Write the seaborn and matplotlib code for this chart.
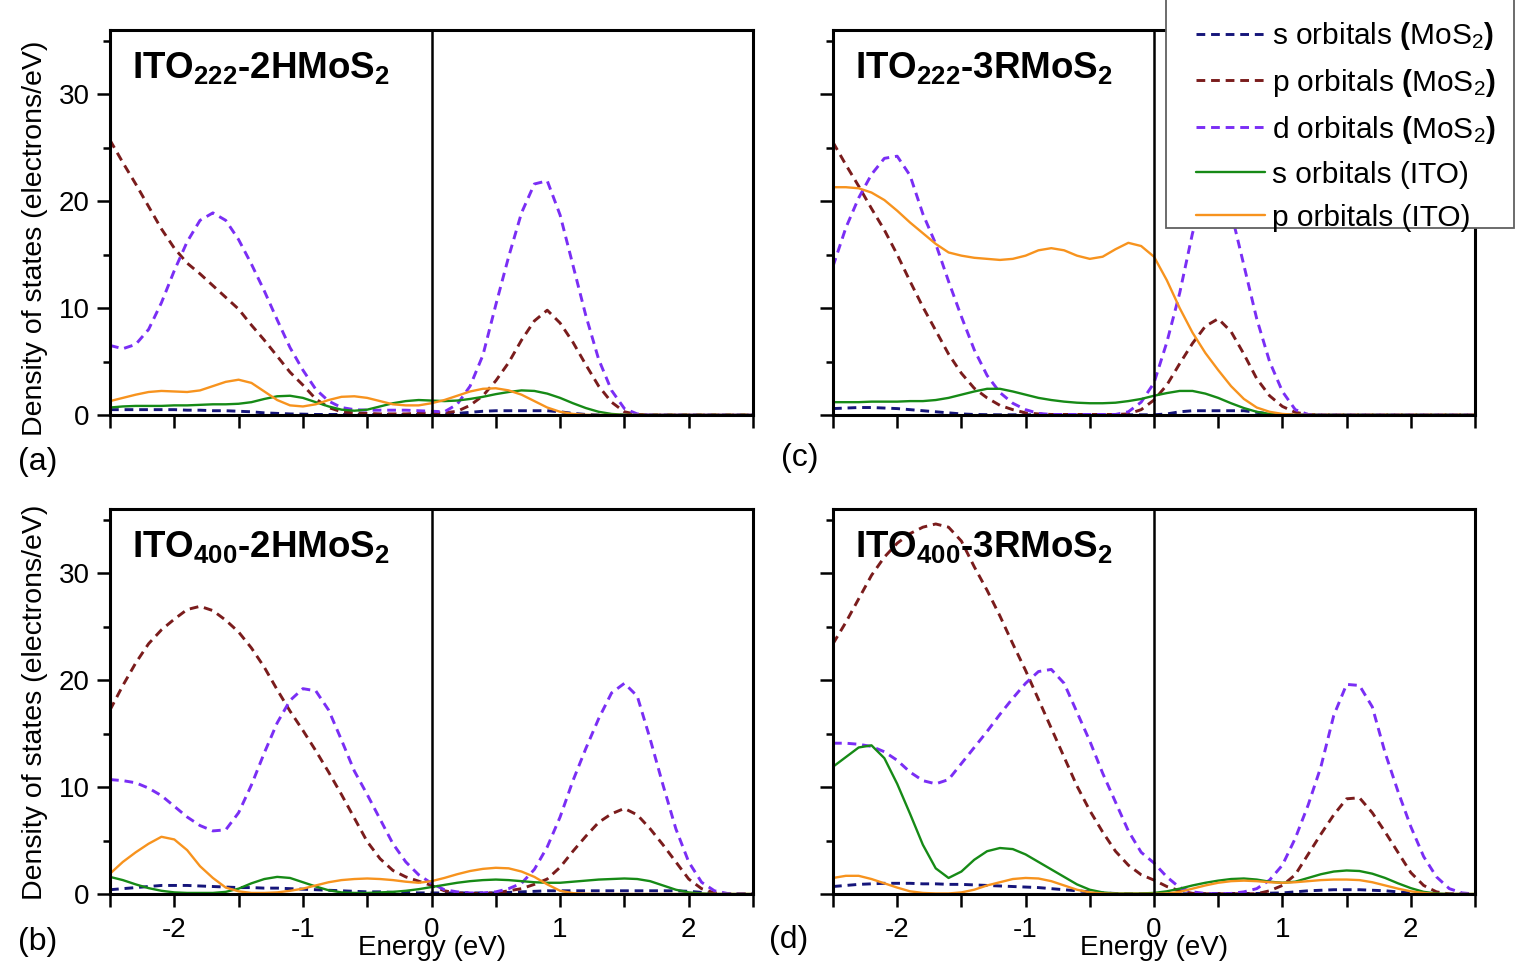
import numpy as np
import pandas as pd
import matplotlib
matplotlib.use("Agg")
import matplotlib.pyplot as plt
import seaborn as sns
from matplotlib.patches import Rectangle
from matplotlib.lines import Line2D

# ---------------- data ----------------
energy = [-2.5, -2.4, -2.3, -2.2, -2.1, -2.0, -1.9, -1.8, -1.7, -1.6,
          -1.5, -1.4, -1.3, -1.2, -1.1, -1.0, -0.9, -0.8, -0.7, -0.6,
          -0.5, -0.4, -0.3, -0.2, -0.1, 0.0, 0.1, 0.2, 0.3, 0.4,
          0.5, 0.6, 0.7, 0.8, 0.9, 1.0, 1.1, 1.2, 1.3, 1.4,
          1.5, 1.6, 1.7, 1.8, 1.9, 2.0, 2.1, 2.2, 2.3, 2.4, 2.5]

series_labels = [r"s orbitals $\mathbf{(}$MoS$_2$$\mathbf{)}$",
                 r"p orbitals $\mathbf{(}$MoS$_2$$\mathbf{)}$",
                 r"d orbitals $\mathbf{(}$MoS$_2$$\mathbf{)}$",
                 "s orbitals (ITO)",
                 "p orbitals (ITO)"]

panel_titles = [r"ITO$_{\mathbf{222}}$-2HMoS$_{\mathbf{2}}$",
                r"ITO$_{\mathbf{400}}$-2HMoS$_{\mathbf{2}}$",
                r"ITO$_{\mathbf{222}}$-3RMoS$_{\mathbf{2}}$",
                r"ITO$_{\mathbf{400}}$-3RMoS$_{\mathbf{2}}$"]
panel_tags = ["(a)", "(b)", "(c)", "(d)"]

# panel (a) ITO222-2HMoS2
a_s_mos2 = [0.5, 0.5, 0.5, 0.5, 0.5, 0.5, 0.45, 0.45, 0.4, 0.4, 0.35, 0.3, 0.2, 0.15, 0.1, 0.08,
            0.05, 0.05, 0.05, 0.05, 0.05, 0.05, 0.05, 0.05, 0.05, 0.05,
            0.1, 0.15, 0.25, 0.35, 0.4, 0.4, 0.4, 0.4, 0.4, 0.3, 0.15, 0.05,
            0, 0, 0, 0, 0, 0, 0, 0, 0, 0, 0, 0, 0]
a_p_mos2 = [25.7, 23.6, 21.6, 19.5, 17.4, 15.6, 14.2, 13.2, 12.1, 11.0, 9.9, 8.4, 7.0, 5.5, 4.0, 2.8,
            1.5, 0.7, 0.3, 0.2, 0.15, 0.1, 0.1, 0.1, 0.15, 0.2,
            0.2, 0.35, 0.9, 1.8, 3.2, 4.9, 7.0, 8.8, 9.8, 8.6,
            6.8, 4.7, 2.7, 1.2, 0.3, 0.05, 0, 0, 0, 0, 0, 0, 0, 0, 0]
a_d_mos2 = [6.5, 6.2, 6.6, 8.0, 10.5, 13.5, 16.2, 18.2, 18.9, 18.2, 16.4, 14.1, 11.6, 8.9, 6.3, 4.2,
            2.4, 1.3, 0.7, 0.5, 0.45, 0.45, 0.45, 0.45, 0.4, 0.35,
            0.3, 1.0, 2.7, 5.6, 10.3, 14.8, 18.9, 21.6, 21.9, 18.7,
            14.0, 9.3, 5.2, 2.3, 0.6, 0.1, 0, 0, 0, 0, 0, 0, 0, 0, 0]
a_s_ito = [0.7, 0.8, 0.85, 0.85, 0.85, 0.9, 0.9, 0.95, 1.0, 1.0, 1.05, 1.2, 1.5, 1.75, 1.8, 1.6,
           1.2, 0.8, 0.5, 0.4, 0.5, 0.8, 1.1, 1.3, 1.4, 1.35,
           1.3, 1.35, 1.5, 1.7, 1.95, 2.15, 2.3, 2.25, 2.0, 1.6,
           1.1, 0.65, 0.3, 0.1, 0.02, 0, 0, 0, 0, 0, 0, 0, 0, 0, 0]
a_p_ito = [1.3, 1.6, 1.9, 2.15, 2.25, 2.2, 2.15, 2.3, 2.7, 3.1, 3.3, 3.0, 2.2, 1.4, 0.9, 0.8,
           1.0, 1.4, 1.7, 1.75, 1.6, 1.3, 1.0, 0.9, 0.9, 1.1,
           1.4, 1.8, 2.2, 2.45, 2.5, 2.3, 1.9, 1.3, 0.7, 0.3,
           0.1, 0.02, 0, 0, 0, 0, 0, 0, 0, 0, 0, 0, 0, 0, 0]

# panel (b) ITO400-2HMoS2
b_s_mos2 = [0.4, 0.5, 0.6, 0.7, 0.8, 0.8, 0.8, 0.75, 0.7, 0.65, 0.6, 0.6, 0.55, 0.55, 0.5, 0.45,
            0.4, 0.35, 0.3, 0.25, 0.2, 0.2, 0.15, 0.15, 0.1, 0.1,
            0.1, 0.1, 0.1, 0.1, 0.1, 0.15, 0.2, 0.25, 0.3, 0.3,
            0.3, 0.3, 0.3, 0.3, 0.3, 0.3, 0.3, 0.3, 0.3, 0.25, 0.15, 0.05, 0, 0, 0]
b_p_mos2 = [17.2, 19.5, 21.6, 23.4, 24.7, 25.7, 26.6, 26.9, 26.5, 25.6, 24.5, 23.0, 21.2, 19.1, 17.1, 15.3,
            13.4, 11.4, 9.3, 7.1, 4.9, 3.3, 2.2, 1.6, 1.2, 0.8,
            0.3, 0.1, 0.05, 0.05, 0.1, 0.3, 0.5, 0.9, 1.4, 2.5,
            4.0, 5.4, 6.7, 7.5, 8.0, 7.4, 6.1, 4.6, 3.0, 1.4, 0.5, 0.1, 0, 0, 0]
b_d_mos2 = [10.7, 10.6, 10.4, 9.9, 9.2, 8.2, 7.2, 6.4, 5.9, 6.0, 7.6, 10.2, 13.2, 16.0, 18.1, 19.2,
            19.0, 17.2, 14.4, 11.5, 9.3, 7.0, 4.7, 3.0, 1.8, 1.0,
            0.4, 0.2, 0.1, 0.1, 0.2, 0.5, 1.0, 2.3, 4.4, 7.2,
            10.6, 13.6, 16.4, 18.8, 19.7, 18.5, 14.5, 10.2, 6.1, 3.0, 1.1, 0.3, 0.05, 0, 0]
b_s_ito = [1.6, 1.3, 0.9, 0.55, 0.3, 0.15, 0.1, 0.1, 0.1, 0.2, 0.5, 1.0, 1.4, 1.6, 1.5, 1.1,
           0.7, 0.35, 0.15, 0.1, 0.1, 0.15, 0.2, 0.3, 0.45, 0.65,
           0.85, 1.05, 1.2, 1.3, 1.35, 1.3, 1.2, 1.1, 1.05, 1.05,
           1.15, 1.25, 1.35, 1.4, 1.45, 1.4, 1.2, 0.8, 0.4, 0.15, 0.05, 0, 0, 0, 0]
b_p_ito = [1.9, 3.0, 3.9, 4.7, 5.35, 5.1, 4.1, 2.6, 1.5, 0.6, 0.25, 0.1, 0.1, 0.15, 0.3, 0.5,
           0.8, 1.1, 1.3, 1.4, 1.45, 1.4, 1.3, 1.15, 1.05, 1.2,
           1.5, 1.85, 2.15, 2.35, 2.45, 2.4, 2.1, 1.6, 0.9, 0.3,
           0.08, 0.02, 0, 0, 0, 0, 0, 0, 0, 0, 0, 0, 0, 0, 0]

# panel (c) ITO222-3RMoS2
c_s_mos2 = [0.6, 0.65, 0.7, 0.7, 0.65, 0.6, 0.5, 0.4, 0.3, 0.2, 0.1, 0.05, 0.03, 0.02, 0.02, 0.02,
            0.02, 0.02, 0.02, 0.02, 0.02, 0.02, 0.02, 0.02, 0.02, 0.02,
            0.1, 0.3, 0.4, 0.4, 0.4, 0.4, 0.4, 0.25, 0.1, 0.02,
            0, 0, 0, 0, 0, 0, 0, 0, 0, 0, 0, 0, 0, 0, 0]
c_p_mos2 = [25.5, 23.4, 21.4, 19.3, 17.3, 15.0, 12.5, 10.1, 7.9, 5.7, 3.9, 2.5, 1.6, 0.9, 0.5, 0.2,
            0.1, 0.05, 0.05, 0.05, 0.05, 0.05, 0.05, 0.1, 0.5, 1.4,
            2.8, 4.8, 6.7, 8.3, 9.0, 7.8, 5.7, 3.4, 1.8, 0.8,
            0.25, 0.05, 0, 0, 0, 0, 0, 0, 0, 0, 0, 0, 0, 0, 0]
c_d_mos2 = [13.9, 17.5, 20.3, 22.5, 24.0, 24.2, 22.4, 18.8, 16.0, 12.5, 9.2, 6.1, 3.7, 2.1, 1.1, 0.5,
            0.15, 0.05, 0.05, 0.05, 0.05, 0.05, 0.05, 0.3, 1.2, 3.0,
            6.8, 11.4, 17.0, 21.0, 22.0, 19.0, 14.0, 9.0, 5.0, 2.2,
            0.5, 0.05, 0, 0, 0, 0, 0, 0, 0, 0, 0, 0, 0, 0, 0]
c_s_ito = [1.2, 1.2, 1.2, 1.25, 1.25, 1.25, 1.3, 1.3, 1.4, 1.6, 1.9, 2.2, 2.45, 2.45, 2.2, 1.9,
           1.6, 1.4, 1.25, 1.15, 1.1, 1.1, 1.15, 1.3, 1.5, 1.8,
           2.05, 2.25, 2.25, 2.0, 1.6, 1.1, 0.65, 0.3, 0.1, 0.02,
           0, 0, 0, 0, 0, 0, 0, 0, 0, 0, 0, 0, 0, 0, 0]
c_p_ito = [21.3, 21.3, 21.2, 20.8, 20.1, 19.1, 18.0, 17.0, 16.0, 15.2, 14.9, 14.7, 14.6, 14.5, 14.6, 14.9,
           15.4, 15.6, 15.4, 14.9, 14.6, 14.8, 15.5, 16.1, 15.8, 14.8,
           12.6, 10.0, 7.7, 5.8, 4.2, 2.7, 1.5, 0.7, 0.3, 0.1,
           0.02, 0, 0, 0, 0, 0, 0, 0, 0, 0, 0, 0, 0, 0, 0]

# panel (d) ITO400-3RMoS2
d_s_mos2 = [0.7, 0.8, 0.9, 0.95, 1.0, 1.0, 1.0, 0.95, 0.95, 0.9, 0.9, 0.85, 0.8, 0.75, 0.7, 0.65,
            0.6, 0.5, 0.4, 0.3, 0.2, 0.1, 0.05, 0.02, 0.02, 0.02,
            0.02, 0.02, 0.02, 0.02, 0.05, 0.05, 0.05, 0.05, 0.08, 0.1,
            0.2, 0.3, 0.35, 0.4, 0.4, 0.4, 0.35, 0.3, 0.2, 0.1, 0.05, 0, 0, 0, 0]
d_p_mos2 = [23.4, 25.4, 27.6, 29.8, 31.5, 32.8, 33.7, 34.3, 34.6, 34.3, 33.0, 30.6, 28.4, 26.0, 23.4, 20.9,
            18.2, 15.5, 12.8, 10.1, 7.8, 5.8, 4.0, 2.7, 1.8, 1.3,
            0.7, 0.3, 0.06, 0.02, 0.02, 0.02, 0.02, 0.02, 0.3, 0.8,
            1.8, 3.7, 5.6, 7.4, 8.9, 9.0, 7.6, 5.8, 3.9, 2.0, 0.8, 0.2, 0, 0, 0]
d_d_mos2 = [14.1, 14.1, 14.0, 13.8, 13.3, 12.5, 11.4, 10.6, 10.3, 10.7, 12.2, 13.7, 15.2, 16.8, 18.3, 19.7,
            20.8, 21.0, 19.7, 17.0, 14.3, 11.3, 8.6, 5.9, 3.9, 2.9,
            1.6, 0.6, 0.2, 0.05, 0.02, 0.05, 0.2, 0.5, 1.3, 2.7,
            5.2, 8.3, 11.9, 16.7, 19.6, 19.5, 17.5, 13.2, 9.6, 6.3, 3.5, 1.6, 0.5, 0.1, 0]
d_s_ito = [11.9, 12.8, 13.7, 13.9, 12.7, 10.3, 7.5, 4.6, 2.4, 1.5, 2.1, 3.2, 4.0, 4.3, 4.2, 3.7,
           3.0, 2.3, 1.6, 0.9, 0.4, 0.15, 0.05, 0.05, 0.05, 0.1,
           0.25, 0.5, 0.8, 1.05, 1.25, 1.4, 1.45, 1.35, 1.15, 1.05,
           1.15, 1.5, 1.85, 2.1, 2.2, 2.15, 1.9, 1.5, 1.0, 0.55, 0.2, 0.05, 0, 0, 0]
d_p_ito = [1.5, 1.7, 1.7, 1.4, 1.0, 0.6, 0.25, 0.1, 0.05, 0.05, 0.15, 0.4, 0.8, 1.1, 1.4, 1.5,
           1.45, 1.2, 0.8, 0.4, 0.15, 0.05, 0.02, 0.02, 0.02, 0.02,
           0.05, 0.2, 0.5, 0.8, 1.05, 1.2, 1.25, 1.2, 1.1, 1.05,
           1.1, 1.2, 1.3, 1.35, 1.35, 1.3, 1.1, 0.8, 0.5, 0.25, 0.1, 0, 0, 0, 0]

panels = {
    "a": [a_s_mos2, a_p_mos2, a_d_mos2, a_s_ito, a_p_ito],
    "b": [b_s_mos2, b_p_mos2, b_d_mos2, b_s_ito, b_p_ito],
    "c": [c_s_mos2, c_p_mos2, c_d_mos2, c_s_ito, c_p_ito],
    "d": [d_s_mos2, d_p_mos2, d_d_mos2, d_s_ito, d_p_ito],
}

# ---------------- style ----------------
sns.set_style("ticks")
plt.rcParams["font.family"] = ["Liberation Sans", "DejaVu Sans"]
plt.rcParams["mathtext.fontset"] = "custom"
plt.rcParams["mathtext.rm"] = "Liberation Sans"
plt.rcParams["mathtext.it"] = "Liberation Sans:italic"
plt.rcParams["mathtext.bf"] = "Liberation Sans:bold"
plt.rcParams["mathtext.default"] = "regular"
plt.rcParams["axes.unicode_minus"] = False
plt.rcParams["text.color"] = "black"
plt.rcParams["axes.labelcolor"] = "black"
plt.rcParams["xtick.color"] = "black"
plt.rcParams["ytick.color"] = "black"

colors = ["#15157a", "#7a1c1c", "#7a2ef5", "#168a16", "#f7931e"]
dash = (0, (3.0, 2.0))
styles = [dash, dash, dash, "-", "-"]
widths = [2.1, 2.1, 2.1, 1.7, 1.7]

W, H = 1524, 977
fig = plt.figure(figsize=(W / 100, H / 100), dpi=100)
fig.patch.set_facecolor("white")

def fx(px):
    return px / W

def fy(py):
    return 1 - py / H

axes_pos = {
    "a": [fx(110), fy(415), fx(643), 385 / H],
    "c": [fx(833), fy(415), fx(642), 385 / H],
    "b": [fx(110), fy(894), fx(643), 385 / H],
    "d": [fx(833), fy(894), fx(642), 385 / H],
}
titles = {"a": panel_titles[0], "b": panel_titles[1], "c": panel_titles[2], "d": panel_titles[3]}

for key, pos in axes_pos.items():
    ax = fig.add_axes(pos)
    for vals, c, ls, lw in zip(panels[key], colors, styles, widths):
        df = pd.DataFrame({"Energy": energy, "DOS": vals})
        sns.lineplot(data=df, x="Energy", y="DOS", ax=ax, color=c, linestyle=ls,
                     linewidth=lw, errorbar=None, sort=False, legend=False)
    ax.axvline(0, color="black", lw=1.8, zorder=3)
    ax.set_xlim(-2.5, 2.5)
    ax.set_ylim(0, 36)
    ax.set_xticks([-2, -1, 0, 1, 2])
    ax.set_xticks([-2.5, -1.5, -0.5, 0.5, 1.5, 2.5], minor=True)
    ax.set_yticks([0, 10, 20, 30])
    ax.set_yticks([5, 15, 25, 35], minor=True)
    ax.set_xlabel("")
    ax.set_ylabel("")
    for sp in ax.spines.values():
        sp.set_visible(True)
        sp.set_linewidth(2.2)
        sp.set_color("black")
    ax.tick_params(axis="both", which="both", direction="out", width=1.8,
                   colors="black", labelsize=20, top=False, right=False)
    ax.tick_params(axis="x", which="major", length=9.5, pad=7)
    ax.tick_params(axis="x", which="minor", length=9.5)
    ax.tick_params(axis="y", which="major", length=9.5, pad=5)
    ax.tick_params(axis="y", which="minor", length=5)
    if key in ("a", "c"):
        ax.set_xticklabels([])
    else:
        ax.set_xticklabels(["-2", "-1", "0", "1", "2"])
    if key in ("c", "d"):
        ax.set_yticklabels([])
    ax.text(0.034, 0.875, titles[key], transform=ax.transAxes, fontsize=26.5,
            fontweight="bold", va="baseline", ha="left", color="black")

# panel tags
fig.text(fx(18), fy(462), "(a)", fontsize=23, va="center", ha="left")
fig.text(fx(18), fy(942), "(b)", fontsize=23, va="center", ha="left")
fig.text(fx(781), fy(458), "(c)", fontsize=23, va="center", ha="left")
fig.text(fx(769), fy(940), "(d)", fontsize=23, va="center", ha="left")

# y labels
for yc in (238, 702):
    fig.text(fx(35), fy(yc), "Density of states (electrons/eV)", rotation=90,
             fontsize=20.5, va="center", ha="center")
# x labels
for xc in (432, 1154):
    fig.text(fx(xc), fy(948), "Energy (eV)", fontsize=20, va="center", ha="center")

# legend
frame = Rectangle((fx(1166), fy(228)), fx(1514) - fx(1166), fy(-5) - fy(228),
                  transform=fig.transFigure, facecolor="white", edgecolor="#606060",
                  lw=1.3, zorder=5)
fig.add_artist(frame)
handles = [Line2D([], [], color=c, linestyle=ls, lw=lw)
           for c, ls, lw in zip(colors, styles, widths)]
leg = fig.legend(handles, series_labels, loc="upper left",
                 bbox_to_anchor=(fx(1196), fy(20)), frameon=False, fontsize=21.5,
                 handlelength=2.3, handletextpad=0.25, labelspacing=0.5,
                 borderpad=0, borderaxespad=0)
leg.set_zorder(6)

fig.savefig("out.png", dpi=100)
